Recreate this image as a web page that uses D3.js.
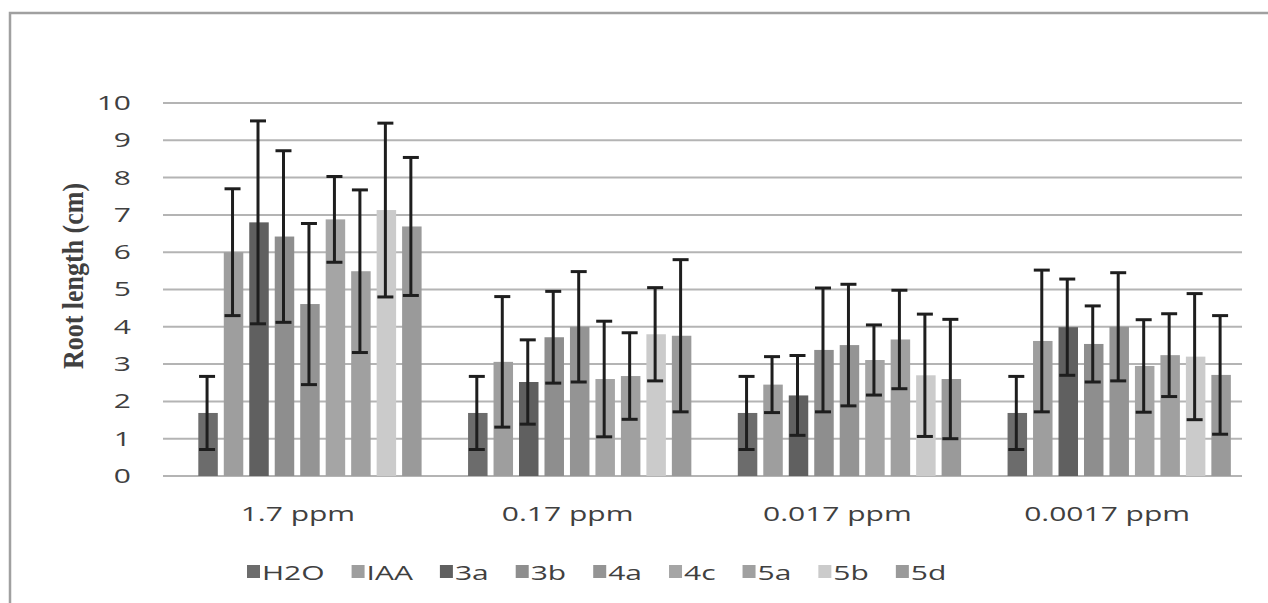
<!DOCTYPE html>
<html>
<head>
<meta charset="utf-8">
<script src="https://cdn.jsdelivr.net/npm/d3@7"></script>
<style>
  html, body { margin: 0; padding: 0; background: #fff; }
  svg { display: block; }
  text { font-family: "Open Sans", "DejaVu Sans", sans-serif; fill: #404040; }
</style>
</head>
<body>
<svg id="chart" width="1268" height="603"></svg>
<script>
// Concentration groups and treatments
const categories = ["1.7 ppm", "0.17 ppm", "0.017 ppm", "0.0017 ppm"];
const treatments = ["H2O", "IAA", "3a", "3b", "4a", "4c", "5a", "5b", "5d"];
const yTicks = [0, 1, 2, 3, 4, 5, 6, 7, 8, 9, 10];

// Mean root length (cm) per treatment, one value per concentration
const meanH2O = [1.69, 1.69, 1.69, 1.69];
const meanIAA = [6.00, 3.06, 2.45, 3.62];
const mean3a  = [6.80, 2.52, 2.16, 3.99];
const mean3b  = [6.42, 3.72, 3.38, 3.54];
const mean4a  = [4.61, 4.00, 3.51, 4.00];
const mean4c  = [6.88, 2.60, 3.11, 2.95];
const mean5a  = [5.49, 2.68, 3.66, 3.24];
const mean5b  = [7.13, 3.80, 2.70, 3.20];
const mean5d  = [6.69, 3.76, 2.60, 2.71];

// Standard deviations (error bars)
const sdH2O = [0.98, 0.98, 0.98, 0.98];
const sdIAA = [1.70, 1.75, 0.75, 1.90];
const sd3a  = [2.72, 1.13, 1.07, 1.29];
const sd3b  = [2.30, 1.23, 1.66, 1.02];
const sd4a  = [2.16, 1.48, 1.63, 1.45];
const sd4c  = [1.15, 1.55, 0.94, 1.24];
const sd5a  = [2.18, 1.16, 1.32, 1.11];
const sd5b  = [2.33, 1.25, 1.64, 1.69];
const sd5d  = [1.85, 2.04, 1.60, 1.59];

const means = [meanH2O, meanIAA, mean3a, mean3b, mean4a, mean4c, mean5a, mean5b, mean5d];
const sds   = [sdH2O, sdIAA, sd3a, sd3b, sd4a, sd4c, sd5a, sd5b, sd5d];

const colors = ["#6c6c6c", "#9e9e9e", "#606060", "#8e8e8e", "#949494",
                "#a5a5a5", "#a0a0a0", "#cbcbcb", "#9a9a9a"];

// Labels are set in a wide face: stretch horizontally
const textStretch = 1.5;

const svg = d3.select("#chart");

// Chart frame
svg.append("rect")
  .attr("x", 10).attr("y", 13)
  .attr("width", 1300).attr("height", 700)
  .attr("fill", "none")
  .attr("stroke", "#a0a0a0")
  .attr("stroke-width", 2.5);

const plot = { left: 163, right: 1242, top: 103, bottom: 476 };

const y = d3.scaleLinear().domain([0, 10]).range([plot.bottom, plot.top]);
const x0 = d3.scaleBand().domain(categories).range([plot.left, plot.right]);
const x1 = d3.scaleBand().domain(treatments)
  .range([0, x0.bandwidth()])
  .paddingInner(0.235)
  .paddingOuter(0.912)
  .align(0.76);

// Horizontal gridlines
svg.append("g")
  .selectAll("line")
  .data(yTicks)
  .join("line")
  .attr("x1", plot.left).attr("x2", plot.right)
  .attr("y1", d => y(d)).attr("y2", d => y(d))
  .attr("stroke", "#b4b4b4")
  .attr("stroke-width", 2);

// Y axis labels
const yAxis = d3.axisLeft(y).tickValues(yTicks).tickSize(0).tickPadding(0).tickFormat(d3.format("d"));
const gy = svg.append("g")
  .attr("transform", `translate(${plot.left - 32},0)`)
  .call(yAxis);
gy.select(".domain").remove();
gy.selectAll("text")
  .attr("x", 0)
  .attr("font-size", 20)
  .attr("fill", "#404040")
  .attr("transform", `scale(${textStretch},1)`)
  .style("font-family", '"Open Sans", sans-serif');

// X axis category labels
const xAxis = d3.axisBottom(x0).tickSize(0).tickPadding(0);
const gx = svg.append("g")
  .attr("transform", `translate(0,${plot.bottom + 31})`)
  .call(xAxis);
gx.select(".domain").remove();
gx.selectAll("text")
  .attr("font-size", 20)
  .attr("fill", "#404040")
  .attr("transform", `scale(${textStretch},1)`)
  .style("font-family", '"Open Sans", sans-serif');

// Bars and error bars
const rows = [];
categories.forEach((c, ci) => {
  treatments.forEach((t, ti) => {
    rows.push({ cat: c, t, ti, v: means[ti][ci], e: sds[ti][ci] });
  });
});

svg.append("g")
  .selectAll("rect")
  .data(rows)
  .join("rect")
  .attr("x", d => x0(d.cat) + x1(d.t))
  .attr("width", x1.bandwidth())
  .attr("y", d => y(d.v))
  .attr("height", d => y(0) - y(d.v))
  .attr("fill", d => colors[d.ti]);

const capHalf = 8;
const eb = svg.append("g")
  .attr("stroke", "#1e1e1e")
  .attr("stroke-width", 3);

const cx = d => x0(d.cat) + x1(d.t) + x1.bandwidth() / 2 - 1;

eb.selectAll("line.stem")
  .data(rows)
  .join("line")
  .attr("class", "stem")
  .attr("x1", cx).attr("x2", cx)
  .attr("y1", d => y(d.v + d.e)).attr("y2", d => y(d.v - d.e));

eb.selectAll("line.capTop")
  .data(rows)
  .join("line")
  .attr("class", "capTop")
  .attr("x1", d => cx(d) - capHalf).attr("x2", d => cx(d) + capHalf)
  .attr("y1", d => y(d.v + d.e)).attr("y2", d => y(d.v + d.e));

eb.selectAll("line.capBot")
  .data(rows)
  .join("line")
  .attr("class", "capBot")
  .attr("x1", d => cx(d) - capHalf).attr("x2", d => cx(d) + capHalf)
  .attr("y1", d => y(d.v - d.e)).attr("y2", d => y(d.v - d.e));

// Y axis title
svg.append("text")
  .attr("transform", `translate(83,276) rotate(-90) scale(1,1.15)`)
  .attr("text-anchor", "middle")
  .style("font-family", '"Liberation Serif", "Times New Roman", serif')
  .attr("font-weight", "bold")
  .attr("font-size", 26)
  .attr("fill", "#111")
  .text("Root length (cm)");

// Legend
const legend = svg.append("g").attr("transform", "translate(247,572)");
let lx = 0;
treatments.forEach((t, i) => {
  const g = legend.append("g").attr("transform", `translate(${lx},0)`);
  g.append("rect")
    .attr("x", 0).attr("y", -7)
    .attr("width", 13).attr("height", 13)
    .attr("fill", colors[i]);
  const txt = g.append("g")
    .attr("transform", `translate(15,0) scale(${textStretch},1)`)
    .append("text")
    .attr("dominant-baseline", "central")
    .attr("font-size", 20)
    .attr("fill", "#404040")
    .text(t);
  const w = txt.node().getComputedTextLength() * textStretch;
  lx += 15 + w + 27;
});
</script>
</body>
</html>
